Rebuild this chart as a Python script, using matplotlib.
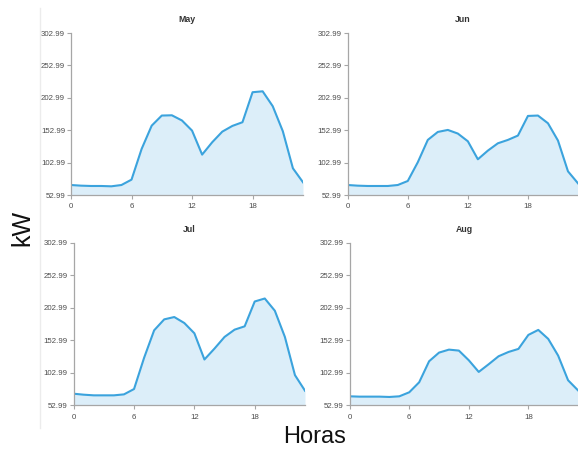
import matplotlib
matplotlib.use("Agg")
import matplotlib.pyplot as plt
from matplotlib.lines import Line2D

hours = list(range(24))
months = ["May", "Jun", "Jul", "Aug"]
may = [68.4, 67.4, 66.9, 66.9, 66.4, 68.4, 76.7, 124.0, 160.0, 175.6, 176.0, 168.0,
       152.4, 115.3, 134.4, 150.8, 159.6, 165.3, 211.6, 213.0, 190.0, 151.4, 94.2, 72.6]
jun = [68.4, 67.4, 66.9, 66.9, 66.9, 68.4, 74.6, 103.5, 138.0, 150.3, 153.4, 147.8,
       135.9, 108.1, 121.5, 132.8, 138.0, 144.7, 175.0, 175.6, 163.7, 137.0, 89.5, 71.0]
jul = [70.8, 69.3, 68.3, 68.3, 68.3, 69.8, 78.0, 126.0, 168.3, 185.1, 188.7, 179.5,
       163.7, 123.4, 140.2, 158.1, 169.3, 174.4, 212.6, 217.2, 198.4, 158.1, 99.4, 75.4]
aug = [66.8, 66.3, 66.3, 66.3, 65.8, 66.8, 73.0, 88.4, 120.7, 134.0, 138.6, 137.1,
       122.2, 104.3, 116.1, 128.4, 135.0, 139.7, 161.2, 168.9, 155.1, 129.4, 91.5, 76.0]
series = [may, jun, jul, aug]
y_ticks = [52.99, 102.99, 152.99, 202.99, 252.99, 302.99]
y_tick_labels = ["52.99", "102.99", "152.99", "202.99", "252.99", "302.99"]
x_ticks = [0, 6, 12, 18]

plt.rcParams["font.family"] = ["Liberation Sans", "DejaVu Sans"]

W, H = 578, 449
fig = plt.figure(figsize=(W / 100, H / 100), dpi=100)

# panel boxes in pixels: left, top, right, bottom
boxes = [(71, 33, 303, 195), (347.7, 33, 578, 195),
         (73.7, 242.7, 305, 405.3), (349.7, 242.7, 578, 405.3)]

line_c = "#3ba3dd"
fill_c = "#dceef9"
spine_c = "#a6a6a6"
tick_c = "#4d4d4d"

for (l, t, r, b), name, vals in zip(boxes, months, series):
    ax = fig.add_axes([l / W, 1 - b / H, (r - l) / W, (b - t) / H])
    ax.fill_between(hours, y_ticks[0], vals, color=fill_c, lw=0)
    ax.plot(hours, vals, color=line_c, lw=1.5, solid_joinstyle="round")
    ax.set_xlim(0, 23)
    ax.set_ylim(y_ticks[0], y_ticks[-1])
    ax.set_yticks(y_ticks)
    ax.set_yticklabels(y_tick_labels)
    ax.set_xticks(x_ticks)
    for s in ["top", "right"]:
        ax.spines[s].set_visible(False)
    for s in ["left", "bottom"]:
        ax.spines[s].set_color(spine_c)
        ax.spines[s].set_linewidth(0.9)
    ax.tick_params(axis="both", length=3, width=0.8, color=spine_c,
                   labelsize=5.7, labelcolor=tick_c, pad=1.2)
    ax.tick_params(axis="x", pad=3)
    ax.set_title(name, fontsize=6.3, fontweight="bold", color="#333333", pad=8)
    ax.patch.set_alpha(0)

# faint vertical separator
fig.add_artist(Line2D([40 / W, 40 / W], [1 - 428 / H, 1 - 8 / H],
                      color="#ececec", lw=1))

fig.text(22 / W, 1 - 228 / H, "kW", rotation=90, ha="center", va="center",
         fontsize=18, color="#111111")
fig.text(315 / W, 1 - 437 / H, "Horas", ha="center", va="center",
         fontsize=17, color="#111111")

fig.savefig("out.png", dpi=100, facecolor="white")
